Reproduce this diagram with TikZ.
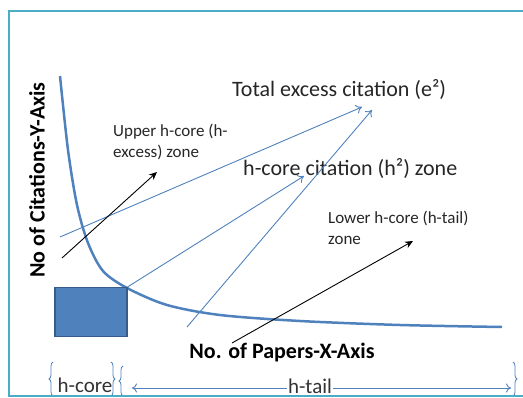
\documentclass[tikz,border=0pt]{standalone}
\usepackage{fontspec}
\setmainfont{Carlito}
\usepackage{tikz}
\usetikzlibrary{arrows.meta,decorations.pathreplacing}
\definecolor{c1}{HTML}{4F81BD}
\definecolor{c2}{HTML}{385D8A}
\definecolor{c3}{HTML}{4BACC6}

\tikzset{
  bluearrow/.style={c1, line width=0.9pt, -{To[length=6pt,width=9pt]}},
  blackarrow/.style={black, line width=0.9pt, -{Stealth[length=8pt,width=7pt]}},
  zonelabel/.style={font=\fontsize{17}{21}\selectfont, align=left, anchor=north west, inner sep=0pt, text=black!85},
  biglabel/.style={font=\fontsize{22}{26}\selectfont, anchor=base west, inner sep=0pt, text=black!85},
  axislabel/.style={font=\bfseries\fontsize{22}{26}\selectfont, inner sep=0pt},
  bottomlabel/.style={font=\fontsize{21}{24}\selectfont, anchor=base, inner sep=0pt, text=black!80},
  bracemark/.style={c1, line width=0.8pt, decorate, decoration={brace, amplitude=4pt}}
}

\begin{document}
\begin{tikzpicture}[x=1pt,y=-1pt]
\useasboundingbox (0,0) rectangle (523,398);
\begin{scope}
\clip (9,11) rectangle (523,396);
\draw[c1, line width=2.5pt] plot[smooth] coordinates {(60,76) (68,150) (77,205) (88,243) (103,271) (127,288) (167,305) (220,315) (300,321) (400,325) (502,327)};
\node[draw=c2, fill=c1, line width=1.5pt, minimum width=72pt, minimum height=49pt, anchor=north west] (corebox) at (54,287) {};

\node[biglabel] (total) at (232,97) {Total excess citation (e²)};
\node[biglabel] (hcorezone) at (243,176) {h-core citation (h²) zone};
\node[zonelabel] (upper) at (113,124) {Upper h-core (h-\\excess) zone};
\node[zonelabel] (lower) at (328,211) {Lower h-core (h-tail)\\zone};
\node[axislabel, rotate=90] (yaxis) at (37,180) {No of Citations-Y-Axis};
\node[axislabel] (xaxis) at (282,353) {No. of Papers-X-Axis};

\coordinate (s1) at (60,237);
\coordinate (s2) at (187,327);
\coordinate (s3) at (232,343);
\coordinate (s4) at (62,258);
\coordinate (e1) at (362,107);
\coordinate (e2) at (372,110);
\coordinate (h1) at (304,176);
\coordinate (u1) at (157,172);
\coordinate (l1) at (413,241);
\draw[bluearrow] (s1) -- (e1);
\draw[bluearrow] (s2) -- (e2);
\draw[bluearrow] (corebox.north east) -- (h1);
\draw[blackarrow] (s4) -- (u1);
\draw[blackarrow] (s3) -- (l1);

\coordinate (tl) at (132,388);
\coordinate (tr) at (511,388);
\draw[c1, line width=0.9pt, {To[length=5pt,width=9pt]}-{To[length=5pt,width=9pt]}] (tl) -- (tr);
\node[bottomlabel] (hcore) at (85,393) {h-core};
\node[bottomlabel, fill=white, inner xsep=1pt] (htail) at (310,394) {h-tail};
\draw[bracemark] (53,396) -- (53,362);
\draw[bracemark] (111,362) -- (111,396);
\draw[bracemark] (123,396) -- (123,366);
\draw[bracemark] (513,362) -- (513,396);
\end{scope}
\draw[c3, line width=2pt] (530,11.5) -- (9,11.5) -- (9,396) -- (530,396);
\end{tikzpicture}
\end{document}
